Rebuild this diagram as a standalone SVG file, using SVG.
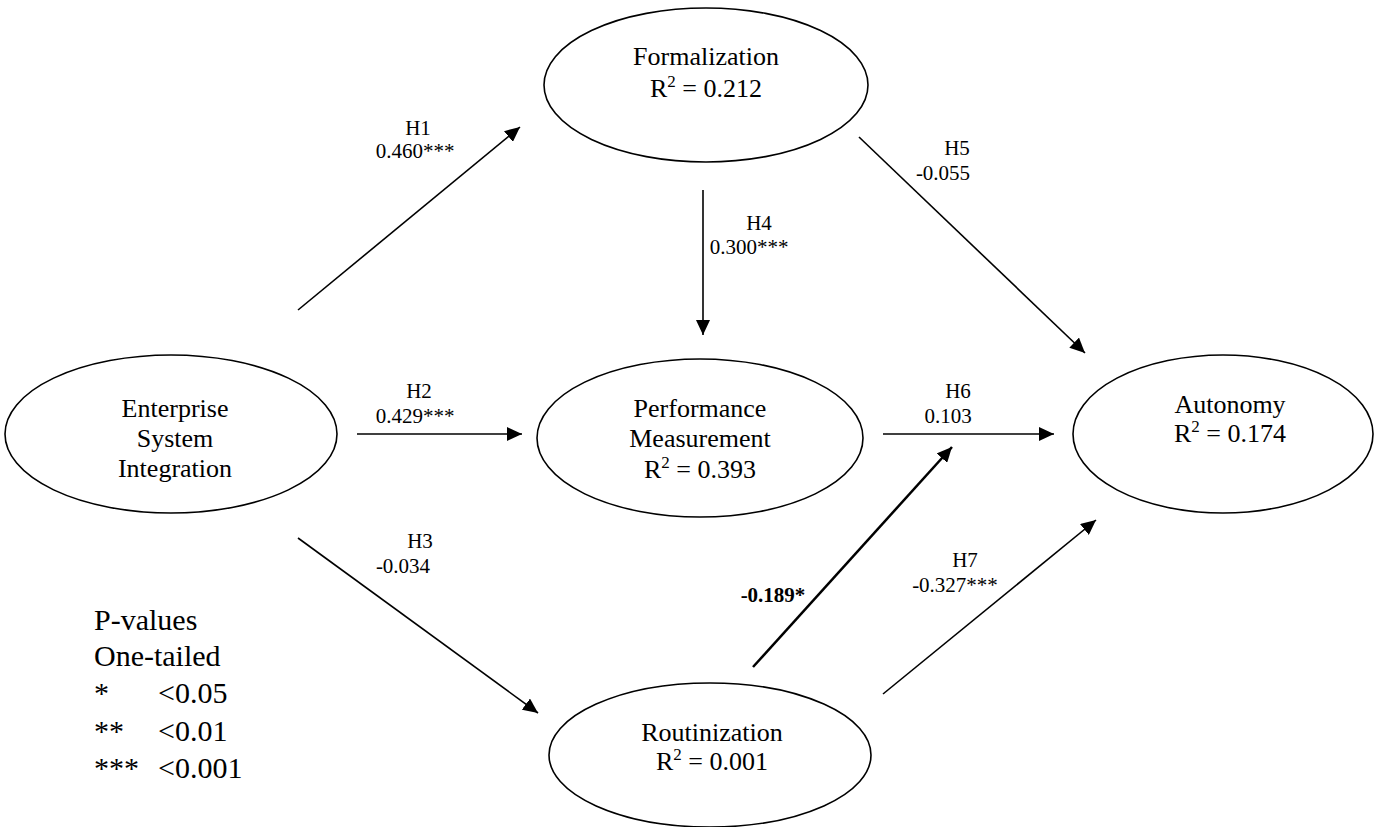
<svg xmlns="http://www.w3.org/2000/svg" width="1374" height="827" viewBox="0 0 1374 827">
<style>
.node{fill:#fff;stroke:#000;stroke-width:1.6}
.nt{font-family:"Liberation Serif","Times New Roman",serif;font-size:26px;fill:#000;text-anchor:middle}
.lb{font-family:"Liberation Serif","Times New Roman",serif;font-size:21px;fill:#000;text-anchor:middle}
.lg{font-family:"Liberation Serif","Times New Roman",serif;font-size:30px;fill:#000}
.edge{stroke:#000;stroke-width:1.6;fill:none;marker-end:url(#ah)}
.bold{stroke-width:2.5}
</style>
<defs>
<marker id="ah" markerUnits="userSpaceOnUse" markerWidth="16" markerHeight="14" refX="15" refY="7" orient="auto">
<path d="M0,0 L15,7 L0,14 z" fill="#000"/>
</marker>
</defs>
<rect width="1374" height="827" fill="#fff"/>
<g id="connectors">
<line class="edge" x1="298" y1="310" x2="520" y2="127"/>
<line class="edge" x1="357" y1="434" x2="522" y2="434"/>
<line class="edge" x1="298" y1="538" x2="538" y2="713"/>
<line class="edge" x1="703" y1="190" x2="703" y2="335"/>
<line class="edge" x1="859" y1="137" x2="1085" y2="353"/>
<line class="edge" x1="883" y1="434" x2="1054" y2="434"/>
<line class="edge bold" x1="753" y1="667" x2="952" y2="447"/>
<line class="edge" x1="883" y1="694" x2="1096" y2="520"/>
<text class="lb" x="418" y="135">H1</text>
<text class="lb" x="415" y="158">0.460***</text>
<text class="lb" x="419" y="398">H2</text>
<text class="lb" x="415" y="423">0.429***</text>
<text class="lb" x="420" y="548">H3</text>
<text class="lb" x="403" y="573">-0.034</text>
<text class="lb" x="759" y="230">H4</text>
<text class="lb" x="749" y="254">0.300***</text>
<text class="lb" x="957" y="155">H5</text>
<text class="lb" x="943" y="180">-0.055</text>
<text class="lb" x="958" y="398">H6</text>
<text class="lb" x="948" y="423">0.103</text>
<text class="lb" x="773" y="602" font-weight="bold">-0.189*</text>
<text class="lb" x="965" y="567">H7</text>
<text class="lb" x="955" y="592">-0.327***</text>
</g>
<g id="formalization">
<ellipse class="node" cx="706" cy="85" rx="162" ry="77"/>
<text class="nt" x="706" y="65">Formalization</text>
<text class="nt" x="706" y="97">R<tspan dy="-10" font-size="17">2</tspan><tspan dy="10"> = 0.212</tspan></text>
</g>
<g id="enterprise">
<ellipse class="node" cx="171" cy="434" rx="166" ry="79"/>
<text class="nt" x="175" y="417">Enterprise</text>
<text class="nt" x="175" y="447">System</text>
<text class="nt" x="175" y="477">Integration</text>
</g>
<g id="performance">
<ellipse class="node" cx="700" cy="438" rx="163" ry="79"/>
<text class="nt" x="700" y="417">Performance</text>
<text class="nt" x="700" y="447">Measurement</text>
<text class="nt" x="700" y="478">R<tspan dy="-10" font-size="17">2</tspan><tspan dy="10"> = 0.393</tspan></text>
</g>
<g id="autonomy">
<ellipse class="node" cx="1223" cy="434" rx="150" ry="79"/>
<text class="nt" x="1230" y="413">Autonomy</text>
<text class="nt" x="1230" y="442">R<tspan dy="-10" font-size="17">2</tspan><tspan dy="10"> = 0.174</tspan></text>
</g>
<g id="routinization">
<ellipse class="node" cx="710" cy="755" rx="161" ry="72"/>
<text class="nt" x="712" y="741">Routinization</text>
<text class="nt" x="712" y="770">R<tspan dy="-10" font-size="17">2</tspan><tspan dy="10"> = 0.001</tspan></text>
</g>
<g id="legend">
<text class="lg" x="94" y="630">P-values</text>
<text class="lg" x="94" y="666">One-tailed</text>
<text class="lg" x="94" y="703">*</text>
<text class="lg" x="158" y="703">&lt;0.05</text>
<text class="lg" x="94" y="741">**</text>
<text class="lg" x="158" y="741">&lt;0.01</text>
<text class="lg" x="94" y="778">***</text>
<text class="lg" x="158" y="778">&lt;0.001</text>
</g>
</svg>
